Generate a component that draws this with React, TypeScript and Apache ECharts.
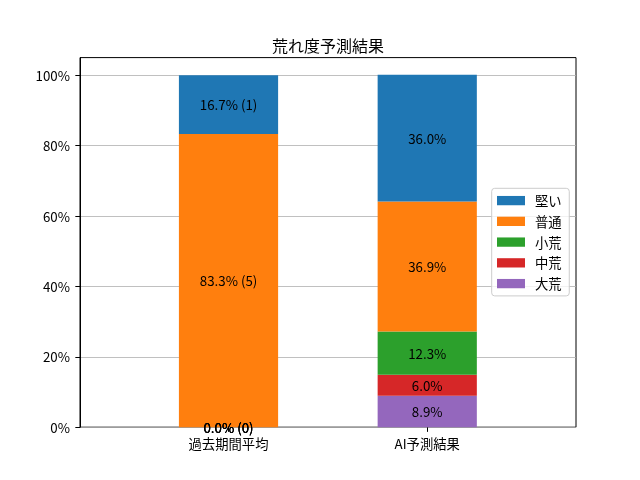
import React, { useEffect, useRef } from "react";
import * as echarts from "echarts";

const title = "荒れ度予測結果";
const categories = ["過去期間平均", "AI予測結果"];
const seriesNames = ["大荒", "中荒", "小荒", "普通", "堅い"]; // bottom to top
const legendOrder = ["堅い", "普通", "小荒", "中荒", "大荒"];
const colors = ["#9467bd", "#d62728", "#2ca02c", "#ff7f0e", "#1f77b4"];
// percentages per series: [過去期間平均, AI予測結果]
const pctDaikou = [0.0, 8.9];
const pctChukou = [0.0, 6.0];
const pctShoukou = [0.0, 12.3];
const pctFutsu = [83.3, 36.9];
const pctKatai = [16.7, 36.0];
// counts for 過去期間平均 (shown in its labels)
const pastCounts = [0, 0, 0, 5, 1];
const yTicks = [0, 20, 40, 60, 80, 100];

const FONT = "'Noto Sans CJK JP', 'Noto Sans', sans-serif";

export default function App() {
  const ref = useRef<HTMLDivElement>(null);
  useEffect(() => {
    if (!ref.current) return;
    const chart = echarts.init(ref.current, undefined, { renderer: "svg" });
    const values = [pctDaikou, pctChukou, pctShoukou, pctFutsu, pctKatai];
    const series = seriesNames.map((name, si) => ({
      name,
      type: "bar",
      stack: "total",
      xAxisIndex: 0,
      yAxisIndex: 0,
      barWidth: 99.2,
      itemStyle: { color: colors[si] },
      label: {
        show: true,
        position: "inside",
        color: "#000",
        fontSize: 13.33,
        fontFamily: FONT,
        formatter: (p: any) =>
          p.dataIndex === 0
            ? `${Number(p.value).toFixed(1)}% (${pastCounts[si]})`
            : `${Number(p.value).toFixed(1)}%`,
      },
      data: values[si],
    }));
    chart.setOption({
      animation: false,
      textStyle: { fontFamily: FONT },
      title: {
        text: title,
        left: 328,
        top: 36.5,
        padding: 0,
        textAlign: "center",
        textStyle: {
          fontSize: 16,
          fontWeight: "normal",
          color: "#000",
          fontFamily: FONT,
          lineHeight: 16,
        },
      },
      legend: {
        orient: "vertical",
        left: 491.7,
        top: 188.3,
        data: legendOrder,
        icon: "rect",
        itemWidth: 28,
        itemHeight: 9.3,
        itemGap: 6.75,
        padding: [5.3, 7.6, 5.3, 5.3],
        backgroundColor: "rgba(255,255,255,0.8)",
        borderColor: "#cccccc",
        borderWidth: 1,
        borderRadius: 3,
        textStyle: {
          fontSize: 13.33,
          color: "#000",
          fontFamily: FONT,
          lineHeight: 14,
          padding: [0, 0, 0, 5],
        },
      },
      grid: [
        {
          left: 129.15,
          right: 113.4,
          top: 57.6,
          bottom: 52.8,
          show: false,
        },
        {
          left: 80,
          right: 64,
          top: 57.6,
          bottom: 52.8,
          show: true,
          borderColor: "#000",
          borderWidth: 1,
          backgroundColor: "transparent",
        },
      ],
      xAxis: [
        {
          type: "category",
          gridIndex: 0,
          data: categories,
          boundaryGap: true,
          splitLine: { show: false },
          axisLine: { show: false },
          axisTick: {
            show: true,
            alignWithLabel: true,
            length: 4.67,
            lineStyle: { color: "#000", width: 1 },
          },
          axisLabel: {
            color: "#000",
            fontSize: 13.33,
            fontFamily: FONT,
            lineHeight: 14,
            margin: 8.8,
          },
        },
        {
          type: "value",
          gridIndex: 1,
          min: 0,
          max: 1,
          show: false,
        },
      ],
      yAxis: [
        {
          type: "value",
          gridIndex: 0,
          min: 0,
          max: 105,
          show: false,
        },
        {
          type: "value",
          gridIndex: 1,
          min: 0,
          max: 105,
          interval: 20,
          splitLine: { show: true, lineStyle: { color: "#b0b0b0", width: 0.8 } },
          axisLine: {
            show: true,
            onZero: false,
            lineStyle: { color: "#000", width: 1 },
          },
          axisTick: {
            show: true,
            length: 4.67,
            lineStyle: { color: "#000", width: 1 },
            customValues: yTicks,
          },
          axisLabel: {
            customValues: yTicks,
            formatter: (v: number) => `${v}%`,
            color: "#000",
            fontSize: 13.33,
            fontFamily: FONT,
            margin: 10,
          },
        },
      ],
      series,
    });
    return () => chart.dispose();
  }, []);
  return (
    <div
      ref={ref}
      style={{ position: "fixed", left: 0, top: 0, width: 640, height: 480 }}
    />
  );
}
